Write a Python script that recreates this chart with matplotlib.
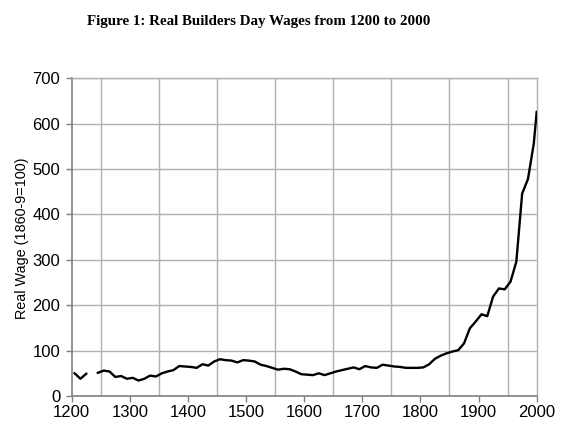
import numpy as np
import matplotlib
matplotlib.use('Agg')
import matplotlib.pyplot as plt
from matplotlib.ticker import MultipleLocator, FixedLocator

# decade mid-points, 1235 missing in the source
years = [1205, 1215, 1225, 1235, 1245, 1255, 1265, 1275, 1285, 1295,
         1305, 1315, 1325, 1335, 1345, 1355, 1365, 1375, 1385, 1395,
         1405, 1415, 1425, 1435, 1445, 1455, 1465, 1475, 1485, 1495,
         1505, 1515, 1525, 1535, 1545, 1555, 1565, 1575, 1585, 1595,
         1605, 1615, 1625, 1635, 1645, 1655, 1665, 1675, 1685, 1695,
         1705, 1715, 1725, 1735, 1745, 1755, 1765, 1775, 1785, 1795,
         1805, 1815, 1825, 1835, 1845, 1855, 1865, 1875, 1885, 1895,
         1905, 1915, 1925, 1935, 1945, 1955, 1965, 1975, 1985, 1995, 2000]
wages = [50, 38, 49, np.nan, 51, 56, 54, 42, 44, 38,
         40, 34, 38, 45, 43, 50, 54, 57, 66, 65,
         64, 62, 70, 67, 76, 81, 79, 78, 74, 79,
         78, 76, 69, 66, 62, 58, 60, 59, 54, 48,
         47, 46, 50, 46, 50, 54, 57, 60, 63, 59,
         66, 63, 62, 69, 67, 65, 64, 62, 62, 62,
         63, 70, 82, 89, 94, 98, 101, 116, 149, 164,
         180, 176, 219, 237, 235, 252, 296, 446, 478, 556, 626]

x_ticks = [1200, 1300, 1400, 1500, 1600, 1700, 1800, 1900, 2000]
x_grid = [1250, 1350, 1450, 1550, 1650, 1750, 1850, 1950]

plt.rcParams['font.family'] = ['Liberation Sans', 'DejaVu Sans']

fig = plt.figure(figsize=(5.66, 4.4), dpi=100)
ax = fig.add_axes([0.1267, 0.1, 0.8215, 0.722])

ax.plot(years, wages, color='black', linewidth=1.7, zorder=3)

ax.set_xlim(1200, 2000)
ax.set_ylim(0, 700)
ax.xaxis.set_major_locator(FixedLocator(x_ticks))
ax.xaxis.set_minor_locator(FixedLocator(x_grid))
ax.yaxis.set_major_locator(MultipleLocator(100))

ax.grid(False)
ax.xaxis.grid(True, which='minor', color='#b0b0b0', linewidth=1.0)
ax.yaxis.grid(True, which='major', color='#b0b0b0', linewidth=1.0)
ax.set_axisbelow(True)

ax.tick_params(axis='x', which='major', direction='out', length=4.3, width=1,
               color='#808080', pad=2, labelsize=12)
ax.tick_params(axis='x', which='minor', length=0)
ax.tick_params(axis='y', direction='out', length=4.3, width=1,
               color='#808080', pad=4, labelsize=12)

for side in ['left', 'bottom']:
    ax.spines[side].set_color('#808080')
    ax.spines[side].set_linewidth(1.2)
for side in ['top', 'right']:
    ax.spines[side].set_color('#b0b0b0')
    ax.spines[side].set_linewidth(1.0)

# y label placed by hand, a bit smaller than the tick labels
fig.text(22.5 / 566, 1 - 238 / 440, 'Real Wage (1860-9=100)', rotation=90,
         ha='center', va='center', fontsize=10.4)

fig.text(0.457, 1 - 25 / 440, 'Figure 1: Real Builders Day Wages from 1200 to 2000',
         ha='center', va='baseline', fontsize=10.8, fontweight='bold',
         family=['Liberation Serif', 'DejaVu Serif'])

fig.savefig('out.png', dpi=100)
